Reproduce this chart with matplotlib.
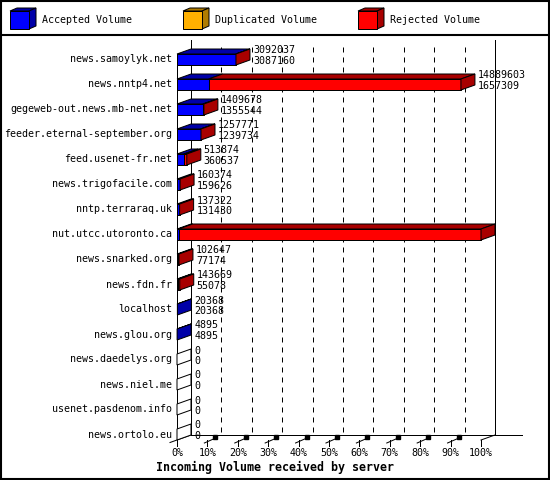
import matplotlib
matplotlib.use('Agg')
import matplotlib.pyplot as plt
from matplotlib.patches import Polygon, Rectangle

# Данные: входящий объём по серверам
servers = ['news.samoylyk.net', 'news.nntp4.net', 'gegeweb-out.news.mb-net.net',
           'feeder.eternal-september.org', 'feed.usenet-fr.net', 'news.trigofacile.com',
           'nntp.terraraq.uk', 'nut.utcc.utoronto.ca', 'news.snarked.org', 'news.fdn.fr',
           'localhost', 'news.glou.org', 'news.daedelys.org', 'news.niel.me',
           'usenet.pasdenom.info', 'news.ortolo.eu']
incoming = [3092037, 14889603, 1409678, 1257771, 513874, 160374, 137322, 15942032,
            102647, 143669, 20368, 4895, 0, 0, 0, 0]
accepted = [3087160, 1657309, 1355544, 1239734, 360537, 159626, 131430, 88191,
            77174, 55078, 20368, 4895, 0, 0, 0, 0]
duplicated = [0, 0, 0, 0, 0, 0, 0, 0, 0, 0, 0, 0, 0, 0, 0, 0]
series_names = ['Accepted Volume', 'Duplicated Volume', 'Rejected Volume']
percent_ticks = [0, 10, 20, 30, 40, 50, 60, 70, 80, 90, 100]

front_colors = ['#0000ff', '#ffb000', '#ff0000']
side_colors = ['#0000a8', '#b07c00', '#a80000']

plt.rcParams['font.family'] = 'DejaVu Sans Mono'
plt.rcParams['font.size'] = 7.2

W, H = 550, 480
PX = 0.72  # пунктов на пиксель
fig = plt.figure(figsize=(W / 100, H / 100), dpi=100)

# рамка и легенда в пиксельных координатах
deco = fig.add_axes([0, 0, 1, 1])
deco.set_xlim(0, W)
deco.set_ylim(H, 0)
deco.axis('off')
deco.add_patch(Rectangle((0.5, 0.5), W - 1.5, H - 1.5, fill=False, ec='black', lw=1.5))
deco.plot([0, W], [35, 35], color='black', lw=1.5)

legend_x = [10, 183, 358]
for k, name in enumerate(series_names):
    x0 = legend_x[k]
    deco.add_patch(Polygon([(x0, 11), (x0 + 7, 8), (x0 + 26, 8), (x0 + 19, 11)],
                           fc=side_colors[k], ec='black', lw=PX))
    deco.add_patch(Polygon([(x0 + 19, 11), (x0 + 26, 8), (x0 + 26, 26), (x0 + 19, 29)],
                           fc=side_colors[k], ec='black', lw=PX))
    deco.add_patch(Rectangle((x0, 11), 19, 18, fc=front_colors[k], ec='black', lw=PX))
    deco.text(x0 + 32, 20, name, ha='left', va='center')

# основная область: 0..100% по передней плоскости
ax = fig.add_axes([177 / W, 1 - 440 / H, 304 / W, 400 / H])
top_row = (40 - 59.5) / 25
bot_row = (440 - 59.5) / 25
ax.set_xlim(0, 100)
ax.set_ylim(bot_row, top_row)
ax.axis('off')

dx = 14 * 100 / 304
dy = 5 / 25
h = 11 / 25
lk = dict(clip_on=False)

# задняя стенка и сетка
for p in percent_ticks[1:-1]:
    ax.plot([p + dx, p + dx], [top_row + 0.3, bot_row - dy], color='black', lw=PX,
            ls=(0, (5, 5)), **lk)
ax.plot([dx, dx], [top_row, bot_row - dy], color='black', lw=PX, **lk)
ax.plot([100 + dx, 100 + dx], [top_row, bot_row - dy], color='black', lw=PX, **lk)
ax.plot([dx, 100 + dx + 27 * 100 / 304], [bot_row - dy, bot_row - dy], color='black', lw=PX, **lk)
ax.plot([0, 0], [-h / 2, bot_row], color='black', lw=PX, **lk)
ax.plot([-dx * 0.5, dx], [bot_row + dy * 0.5, bot_row - dy], color='black', lw=PX, **lk)
ax.plot([100, 100 + dx], [bot_row, bot_row - dy], color='black', lw=PX, **lk)

# отметки на оси X
for p in percent_ticks:
    ax.plot([p, p], [bot_row, bot_row + 6 / 25], color='black', lw=PX, **lk)
    if 0 < p < 100:
        ax.plot([p - 1, p + 2], [bot_row + 3 / 25, bot_row - 1 / 25], color='black', lw=PX, **lk)
        ax.plot([p + 8 * 100 / 304], [bot_row - 3 / 25], marker='s', ms=2.5, color='black', **lk)
    ax.annotate(f'{p}%', xy=(p, bot_row), xytext=(0, -13 * PX), textcoords='offset points',
                ha='center', va='center')

total_max = max(incoming)
for i, name in enumerate(servers):
    parts = [accepted[i], duplicated[i], incoming[i] - accepted[i] - duplicated[i]]
    y0, y1 = i - h / 2, i + h / 2
    left = 0
    last = None
    for k, v in enumerate(parts):
        if v <= 0:
            continue
        w = v / total_max * 100
        ax.add_patch(Polygon([(left, y0), (left + w, y0), (left + w, y1), (left, y1)],
                             fc=front_colors[k], ec='black', lw=PX, zorder=3, **lk))
        ax.add_patch(Polygon([(left, y0), (left + w, y0), (left + w + dx, y0 - dy), (left + dx, y0 - dy)],
                             fc=side_colors[k], ec='black', lw=PX, zorder=3, **lk))
        left += w
        last = k
    cap = side_colors[last] if last is not None else 'white'
    ax.add_patch(Polygon([(left, y0), (left + dx, y0 - dy), (left + dx, y1 - dy), (left, y1)],
                         fc=cap, ec='black', lw=PX, zorder=4, **lk))

    ax.annotate(name, xy=(0, i), xytext=(-5 * PX, 0), textcoords='offset points',
                ha='right', va='center')
    ax.annotate(str(incoming[i]), xy=(left + dx, i), xytext=(3 * PX, 9 * PX),
                textcoords='offset points', ha='left', va='center', zorder=5)
    ax.annotate(str(accepted[i]), xy=(left + dx, i), xytext=(3 * PX, -1.5 * PX),
                textcoords='offset points', ha='left', va='center', zorder=5)

fig.text(0.5, 1 - 467 / H, 'Incoming Volume received by server', ha='center', va='center',
         fontweight='bold', fontsize=8.4)

fig.savefig('out.png', dpi=100)
